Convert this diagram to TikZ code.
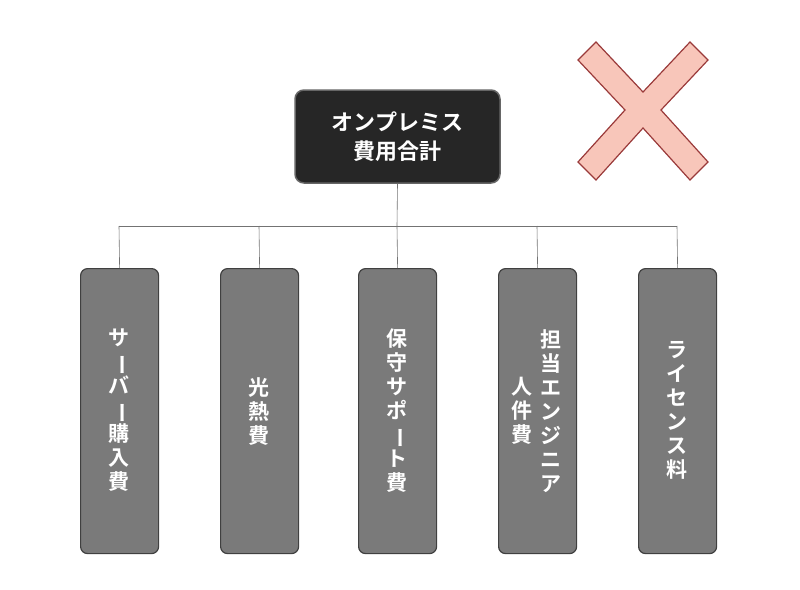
\documentclass[tikz,border=0pt]{standalone}
\usepackage{fontspec}
\newfontfamily\jp{Noto Sans CJK JP Bold}
\definecolor{xfill}{HTML}{F8C6BA}
\definecolor{xline}{HTML}{9A3A3A}
\begin{document}
\begin{tikzpicture}[x=1pt,y=-1pt,
  leaf/.style={draw=black!75,line width=1.2pt,fill=black!52,rounded corners=7pt,minimum width=78pt,minimum height=285pt,anchor=north west,inner sep=0},
  vt/.style={text=white,font=\jp\fontsize{21}{24}\selectfont,align=center,anchor=north,inner sep=0},
  conn/.style={draw=black!55,line width=0.6pt}]
\useasboundingbox (0,0) rectangle (800,589);
\newcommand\vbar{\rotatebox[origin=c]{-90}{ー}}
\node[draw=black!60,line width=1.5pt,fill=black!85,rounded corners=9pt,minimum width=205pt,minimum height=93pt,text=white,align=center,font=\jp\fontsize{22}{29}\selectfont] (top) at (397.5,136.5) {オンプレミス\\費用合計};
\foreach \i/\x in {1/80,2/220,3/358,4/498,5/638}{
  \node[leaf] (b\i) at (\x,268) {};
  \coordinate (j\i) at (\x+39,226);
}
\draw[conn] (top.south) -- (j3);
\draw[conn] (j1) -- (j5);
\foreach \i in {1,...,5}{\draw[conn] (j\i) -- (b\i.north);}
\node[vt] (t1) at (119,329) {サ\\\vbar\\バ\\\vbar\\購\\入\\費};
\node[vt] (t2) at (259,377) {光\\熱\\費};
\node[vt] (t3) at (397,329) {保\\守\\サ\\ポ\\\vbar\\ト\\費};
\node[vt] (t4a) at (551,329) {担\\当\\エ\\ン\\ジ\\ニ\\ア};
\node[vt] (t4b) at (522,377) {人\\件\\費};
\node[vt] (t5) at (677,341) {ラ\\イ\\セ\\ン\\ス\\料};
\draw[draw=xline,line width=1.2pt,fill=xfill,line join=miter]
 (596,42)--(643,92)--(690,42)--(708,60)--(661,110)--(708,162)--(690,180)--(643,128)--(596,180)--(578,162)--(625,110)--(578,60)--cycle;
\end{tikzpicture}
\end{document}
